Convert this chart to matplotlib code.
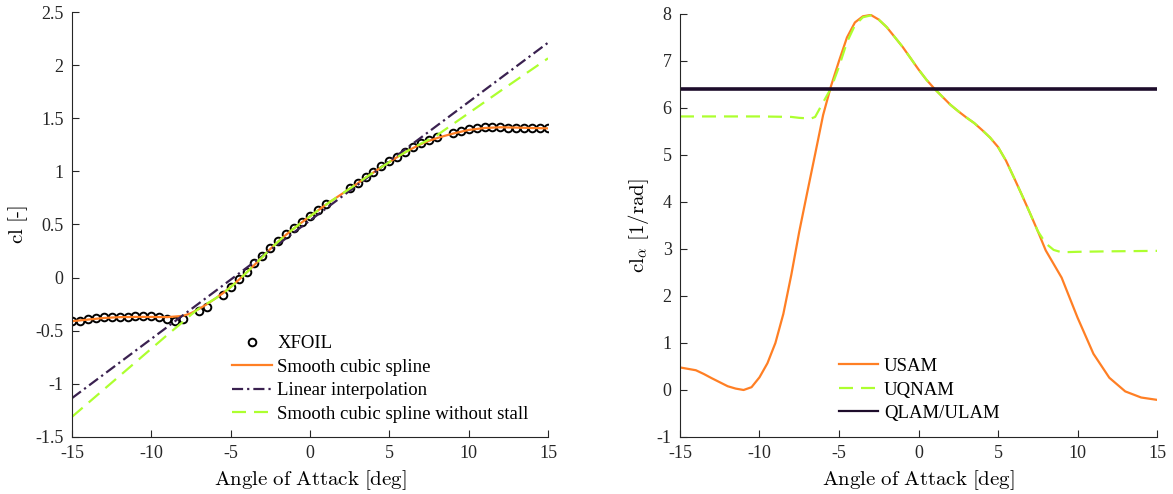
import numpy as np
import matplotlib
matplotlib.use("Agg")
import matplotlib.pyplot as plt
from matplotlib.ticker import FormatStrFormatter

plt.rcParams['font.family'] = ['Liberation Serif', 'DejaVu Serif']
plt.rcParams['mathtext.fontset'] = 'cm'
plt.rcParams['axes.unicode_minus'] = False

# ---- left panel: lift coefficient ----
xfoil_aoa = [-15, -14.5, -14, -13.5, -13, -12.5, -12, -11.5, -11, -10.5, -10, -9.5, -9, -8.5, -8,
             -7, -6.5, -5.5, -5, -4.5, -4, -3.5, -3, -2.5, -2, -1.5, -1, -0.5, 0, 0.5, 1,
             2.5, 3, 3.5, 4, 4.5, 5, 5.5, 6, 6.5, 7, 7.5, 8,
             9, 9.5, 10, 10.5, 11, 11.5, 12, 12.5, 13, 13.5, 14, 14.5, 15]
xfoil_cl = [-0.41, -0.405, -0.39, -0.38, -0.373, -0.37, -0.37, -0.37, -0.365, -0.362, -0.362, -0.37, -0.39, -0.405, -0.386,
            -0.31, -0.28, -0.167, -0.085, -0.013, 0.05, 0.135, 0.2, 0.28, 0.348, 0.41, 0.466, 0.526, 0.58, 0.636, 0.693,
            0.84, 0.893, 0.95, 0.997, 1.05, 1.095, 1.14, 1.185, 1.226, 1.264, 1.295, 1.32,
            1.364, 1.383, 1.396, 1.41, 1.414, 1.417, 1.42, 1.41, 1.41, 1.41, 1.408, 1.408, 1.405]

spline_aoa = [-15, -14, -13, -12, -11, -10, -9, -8, -7.5, -7, -6.5, -6, -5.5, -5, -4.5, -4, -3.5, -3,
              -2.5, -2, -1.5, -1, -0.5, 0, 0.5, 1, 1.5, 2, 2.5, 3, 3.5, 4, 4.5, 5, 5.5, 6, 6.5, 7,
              7.5, 8, 8.5, 9, 9.5, 10, 11, 12, 13, 14, 15]
spline_cl = [-0.41, -0.395, -0.38, -0.372, -0.37, -0.37, -0.372, -0.36, -0.335, -0.295, -0.25, -0.2, -0.148, -0.088, -0.022, 0.048, 0.12, 0.195,
             0.27, 0.34, 0.405, 0.465, 0.522, 0.577, 0.632, 0.686, 0.737, 0.787, 0.837, 0.887, 0.94, 0.99, 1.04, 1.088, 1.135, 1.18, 1.22, 1.257,
             1.288, 1.313, 1.335, 1.355, 1.373, 1.39, 1.408, 1.415, 1.412, 1.408, 1.405]

linear_aoa = [-15, 15]
linear_cl = [-1.134, 2.211]

nostall_aoa = [-15, -12, -9, -8, -7.5, -7, -6.5, -6, -5.5, -5, -4.5, -4, -3.5, -3, -2.5, -2, -1.5, -1, -0.5,
               0, 0.5, 1, 1.5, 2, 2.5, 3, 3.5, 4, 4.5, 5, 5.5, 6, 6.5, 7, 7.5, 8, 10, 12, 15]
nostall_cl = [-1.31, -0.925, -0.54, -0.415, -0.35, -0.29, -0.245, -0.2, -0.15, -0.09, -0.022, 0.048, 0.12, 0.195, 0.27, 0.34, 0.405, 0.465, 0.522,
              0.577, 0.632, 0.686, 0.737, 0.787, 0.837, 0.887, 0.94, 0.99, 1.04, 1.088, 1.135, 1.18, 1.222, 1.262, 1.3, 1.34, 1.548, 1.757, 2.064]

# ---- right panel: lift slope ----
usam_aoa = [-15, -14, -13.5, -13, -12, -11.5, -11, -10.5, -10, -9.5, -9, -8.5, -8, -7.5, -7, -6.5, -6, -5.5,
            -5, -4.5, -4, -3.5, -3, -2.5, -2, -1, 0, 0.5, 1, 1.5, 2, 2.5, 3, 3.5, 4, 4.5, 5, 5.5,
            6, 6.5, 7, 7.5, 8, 9, 10, 11, 12, 13, 14, 15]
usam_val = [0.48, 0.42, 0.34, 0.25, 0.08, 0.03, 0.0, 0.06, 0.27, 0.57, 1.0, 1.62, 2.45, 3.37, 4.2, 5.02, 5.85, 6.47,
            7.0, 7.5, 7.82, 7.95, 7.98, 7.88, 7.72, 7.3, 6.82, 6.6, 6.41, 6.24, 6.07, 5.93, 5.8, 5.68, 5.53, 5.37, 5.17, 4.88,
            4.52, 4.15, 3.77, 3.38, 2.97, 2.39, 1.54, 0.77, 0.26, -0.03, -0.16, -0.21]

uqnam_aoa = [-15, -12, -10, -8, -7.5, -7, -6.8, -6.5, -6, -5.5, -5, -4.5, -4, -3.5, -3, -2.5, -2, -1, 0, 0.5, 1,
             1.5, 2, 2.5, 3, 3.5, 4, 4.5, 5, 5.5, 6, 6.5, 7, 7.5, 8, 8.5, 9, 10, 12, 15]
uqnam_val = [5.82, 5.82, 5.82, 5.81, 5.79, 5.78, 5.77, 5.81, 6.12, 6.42, 6.88, 7.4, 7.76, 7.93, 7.97, 7.88, 7.72, 7.3, 6.82, 6.6, 6.41,
             6.24, 6.07, 5.93, 5.8, 5.68, 5.53, 5.37, 5.17, 4.88, 4.52, 4.15, 3.77, 3.38, 3.12, 2.98, 2.93, 2.94, 2.95, 2.96]

qlam_aoa = [-15, 15]
qlam_val = [6.4, 6.4]

orange = '#ff7f24'
green = '#adff2f'
purple = '#3a2150'
dark = '#1d0c2b'

fig = plt.figure(figsize=(11.73, 4.94), dpi=100)
ax1 = fig.add_axes([0.0614, 0.1154, 0.4058, 0.8603])
ax2 = fig.add_axes([0.5797, 0.1154, 0.4067, 0.8563])

ax1.plot(xfoil_aoa, xfoil_cl, 'o', mfc='none', mec='black', ms=5.5, mew=1.4, label='XFOIL')
ax1.plot(spline_aoa, spline_cl, '-', color=orange, lw=1.6, label='Smooth cubic spline')
ax1.plot(linear_aoa, linear_cl, color=purple, lw=1.6, dashes=(5, 1.8, 1, 1.8), label='Linear interpolation')
ax1.plot(nostall_aoa, nostall_cl, color=green, lw=1.6, dashes=(6.3, 3.6), label='Smooth cubic spline without stall')
ax1.set_xlim(-15, 15)
ax1.set_ylim(-1.5, 2.5)
ax1.set_yticks(np.arange(-1.5, 2.51, 0.5))
ax1.set_xlabel(r'$\mathrm{Angle\ of\ Attack\ [deg]}$', fontsize=15)
ax1.set_ylabel(r'$\mathrm{cl\ [\text{-}]}$', fontsize=15)
ax1.legend(loc='upper left', bbox_to_anchor=(0.337, 0.24), frameon=False, fontsize=13.5,
           numpoints=1, handlelength=2.1, handletextpad=0.3, labelspacing=0.34, borderpad=0, borderaxespad=0)

ax2.plot(usam_aoa, usam_val, '-', color=orange, lw=1.6, label='USAM')
ax2.plot(uqnam_aoa, uqnam_val, color=green, lw=1.6, dashes=(6.3, 3.6), label='UQNAM')
ax2.plot(qlam_aoa, qlam_val, '-', color=dark, lw=2.6, label='QLAM/ULAM')
ax2.set_xlim(-15, 15)
ax2.set_ylim(-1, 8)
ax2.set_yticks(np.arange(-1, 9, 1))
ax2.set_xlabel(r'$\mathrm{Angle\ of\ Attack\ [deg]}$', fontsize=15)
ax2.set_ylabel(r'$\mathrm{cl}_\alpha\ \mathrm{[1/rad]}$', fontsize=15)
leg2 = ax2.legend(loc='upper left', bbox_to_anchor=(0.333, 0.187), frameon=False, fontsize=13.5,
                  handlelength=2.1, handletextpad=0.3, labelspacing=0.34, borderpad=0, borderaxespad=0)
leg2.get_lines()[2].set_linewidth(1.6)

for ax in (ax1, ax2):
    ax.spines['top'].set_visible(False)
    ax.spines['right'].set_visible(False)
    ax.spines['left'].set_color('#262626')
    ax.spines['bottom'].set_color('#262626')
    ax.set_xticks(np.arange(-15, 16, 5))
    ax.tick_params(direction='in', length=5, width=0.8, labelsize=13, colors='#262626', pad=6)
    ax.xaxis.set_major_formatter(FormatStrFormatter('%g'))
    ax.yaxis.set_major_formatter(FormatStrFormatter('%g'))

fig.savefig('out.png', dpi=100)
